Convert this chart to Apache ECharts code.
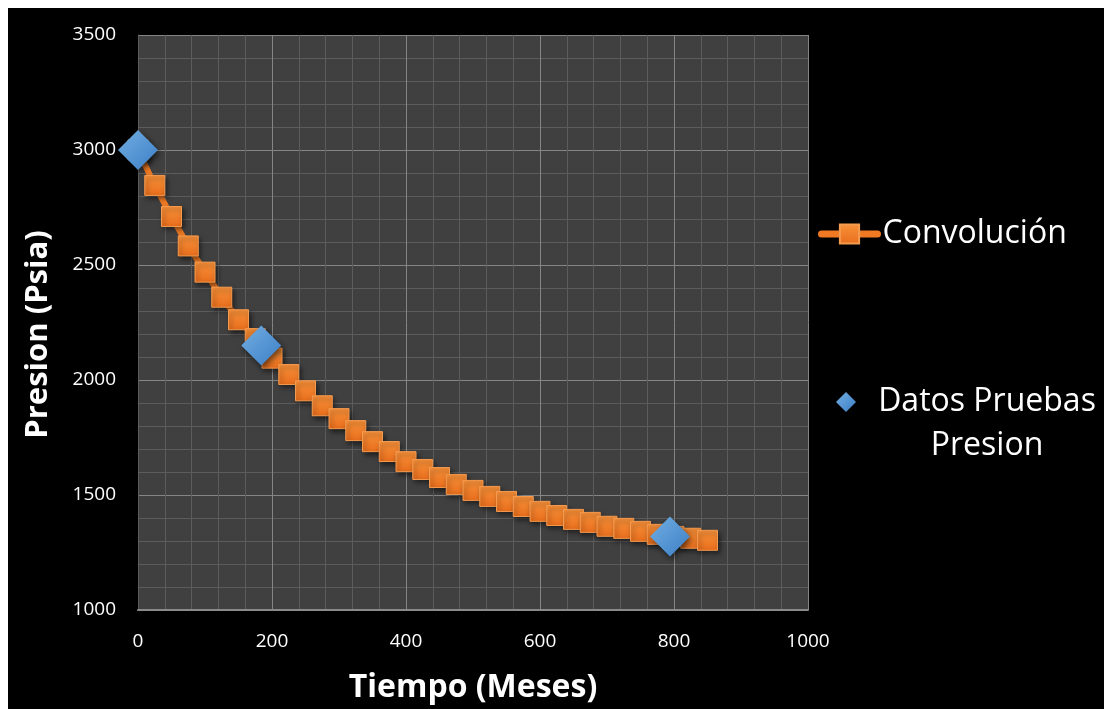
<!DOCTYPE html>
<html>
<head>
<meta charset="utf-8">
<script src="https://cdn.jsdelivr.net/npm/echarts@6/dist/echarts.min.js"></script>
<style>
  html, body { margin: 0; padding: 0; background: #ffffff; width: 1104px; height: 709px; overflow: hidden; }
  #chart { position: absolute; left: 8px; top: 8px; width: 1096px; height: 701px; }
</style>
</head>
<body>
<div id="chart"></div>
<script>
// Convolución (months, psia)
const convTimes = [0, 25, 50, 75, 100, 125, 150, 175, 200, 225, 250, 275, 300, 325, 350, 375, 400, 425, 450, 475, 500, 525, 550, 575, 600, 625, 650, 675, 700, 725, 750, 775, 800, 825, 850];
const convPressures = [3000, 2846, 2711, 2583, 2469, 2360, 2262, 2180, 2095, 2024, 1953, 1888, 1832, 1780, 1732, 1689, 1645, 1611, 1576, 1546, 1520, 1494, 1472, 1450, 1429, 1411, 1394, 1381, 1364, 1355, 1342, 1329, 1320, 1312, 1303];
// Datos Pruebas Presion
const testTimes = [0, 184, 794];
const testPressures = [3000, 2150, 1320];

const seriesNames = ['Convolución', 'Datos Pruebas Presion'];
const xTitle = 'Tiempo (Meses)';
const yTitle = 'Presion (Psia)';

const FONT = '"Open Sans", "DejaVu Sans", sans-serif';

const convData = convTimes.map((t, i) => [t, convPressures[i]]);
const testData = testTimes.map((t, i) => [t, testPressures[i]]);

const orangeGrad = new echarts.graphic.LinearGradient(0, 0, 0, 1, [
  { offset: 0, color: '#f8923a' },
  { offset: 1, color: '#e86d1c' }
]);
const blueGrad = new echarts.graphic.LinearGradient(0, 0, 1, 1, [
  { offset: 0, color: '#72aee2' },
  { offset: 1, color: '#3c7fc6' }
]);

const chart = echarts.init(document.getElementById('chart'));
chart.setOption({
  backgroundColor: '#000000',
  animation: false,
  grid: { left: 130, right: 296, top: 27, bottom: 97, show: true, backgroundColor: '#404040', borderWidth: 0 },
  xAxis: {
    type: 'value', min: 0, max: 1000, interval: 200,
    name: xTitle, nameLocation: 'middle', nameGap: 62,
    nameTextStyle: { color: '#ffffff', fontFamily: FONT, fontWeight: 'bold', fontSize: 32 },
    axisLine: { show: true, lineStyle: { color: '#8a8a8a', width: 2 } },
    axisTick: { show: false },
    axisLabel: { color: '#ffffff', fontFamily: FONT, fontSize: 19, margin: 22, formatter: v => String(v) },
    splitLine: { show: true, lineStyle: { color: '#858585', width: 1 } },
    minorTick: { show: false, splitNumber: 5 },
    minorSplitLine: { show: true, lineStyle: { color: '#5c5c5c', width: 1 } }
  },
  yAxis: {
    type: 'value', min: 1000, max: 3500, interval: 500,
    name: yTitle, nameLocation: 'middle', nameGap: 84,
    nameTextStyle: { color: '#ffffff', fontFamily: FONT, fontWeight: 'bold', fontSize: 31, padding: [0, 24, 0, 0] },
    axisLine: { show: true, lineStyle: { color: '#5c5c5c', width: 1 } },
    axisTick: { show: false },
    axisLabel: { color: '#ffffff', fontFamily: FONT, fontSize: 19, margin: 22, formatter: v => String(v) },
    splitLine: { show: true, lineStyle: { color: '#858585', width: 1 } },
    minorTick: { show: false, splitNumber: 5 },
    minorSplitLine: { show: true, lineStyle: { color: '#5c5c5c', width: 1 } }
  },
  legend: [
    {
      data: [seriesNames[0]], left: 810, top: 210, orient: 'vertical', padding: 0,
      itemWidth: 56, itemHeight: 24, itemGap: 0,
      lineStyle: { width: 7, color: '#f07a24' },
      textStyle: { color: '#ffffff', fontFamily: FONT, fontSize: 32 }
    },
    {
      data: [seriesNames[1]], left: 828, top: 378, orient: 'vertical', padding: 0,
      itemWidth: 20, itemHeight: 20, itemGap: 0,
      formatter: () => '{c|Datos Pruebas}\n{c|Presion}',
      textStyle: {
        color: '#ffffff', fontFamily: FONT, fontSize: 32, padding: [44, 0, 0, 0],
        rich: { c: { color: '#ffffff', fontFamily: FONT, fontSize: 32, width: 252, align: 'center', lineHeight: 44 } }
      }
    }
  ],
  series: [
    {
      name: seriesNames[0], type: 'line', data: convData,
      symbol: 'rect', symbolSize: 20,
      lineStyle: { color: '#f07a24', width: 6, cap: 'round' },
      itemStyle: { color: orangeGrad, borderColor: '#f59b50', borderWidth: 1,
        shadowBlur: 5, shadowOffsetX: 2, shadowOffsetY: 3, shadowColor: 'rgba(0,0,0,0.55)' },
      z: 2
    },
    {
      name: seriesNames[1], type: 'scatter', data: testData,
      symbol: 'diamond', symbolSize: 40,
      itemStyle: { color: blueGrad, opacity: 1,
        shadowBlur: 6, shadowOffsetX: 2, shadowOffsetY: 3, shadowColor: 'rgba(0,0,0,0.55)' },
      z: 4
    }
  ]
});
</script>
</body>
</html>
